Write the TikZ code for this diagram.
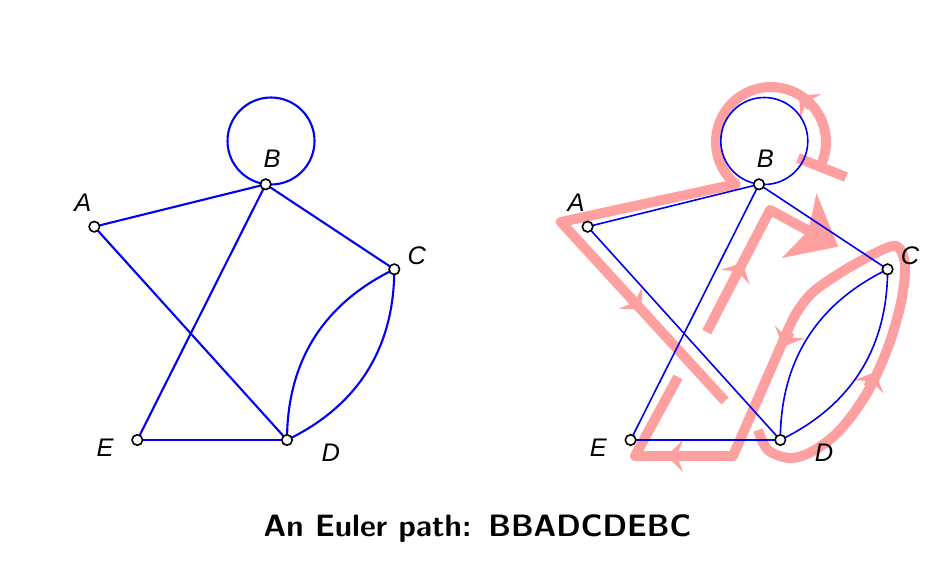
\documentclass[tikz,border=0pt]{standalone}
\usepackage{fontspec}
\newfontfamily\labfont{Liberation Sans}
\usetikzlibrary{arrows.meta,calc}
\definecolor{pathred}{RGB}{255,160,160}
\definecolor{edgeblue}{RGB}{0,0,245}
\tikzset{
  vtx/.style={circle,draw=black,fill=white,line width=1.6bp,minimum size=10.5bp,inner sep=0pt},
  lab/.style={font=\labfont\itshape\fontsize{25.5}{28}\selectfont,inner sep=0pt},
  edgeL/.style={draw=edgeblue,line width=2.1bp},
  edgeR/.style={draw=edgeblue,line width=1.6bp},
  redpath/.style={draw=pathred,line width=10bp,line cap=butt,line join=round},
  midarr/.style={draw=pathred,line width=10bp,line cap=butt,
    -{Stealth[length=16bp,width=32bp,inset=6bp]}},
  bigarr/.style={-{Stealth[length=44bp,width=72bp,inset=10bp]}},
}
\begin{document}
\begin{tikzpicture}[x=1bp,y=-1bp]
\useasboundingbox (0,0) rectangle (952,574);
% ---------- left graph ----------
\coordinate (lA) at (94.3,226.7);
\coordinate (lB) at (265.7,184.3);
\coordinate (lC) at (394.3,269.3);
\coordinate (lD) at (287,440);
\coordinate (lE) at (137.3,440);
\draw[edgeL] ($(lB)+(5.3,-43.3)$) circle[radius=43.5];
\draw[edgeL] (lA) -- (lB);
\draw[edgeL] (lB) -- (lC);
\draw[edgeL] (lB) -- (lE);
\draw[edgeL] (lA) -- (lD);
\draw[edgeL] (lE) -- (lD);
\draw[edgeL] (lD) to[bend left=32] (lC);
\draw[edgeL] (lD) to[bend right=32] (lC);
\foreach \v in {A,B,C,D,E}{\node[vtx] (nl\v) at (l\v) {};}
\node[lab] (tlA) at ($(lA)+(-11.5,-24.2)$) {A};
\node[lab] (tlB) at ($(lB)+(6.3,-25.3)$) {B};
\node[lab] (tlC) at ($(lC)+(22.4,-13.5)$) {C};
\node[lab] (tlD) at ($(lD)+(43.8,12.5)$) {D};
\node[lab] (tlE) at ($(lE)+(-32.3,7.5)$) {E};
% ---------- right graph ----------
\coordinate (rA) at (587.6,226.7);
\coordinate (rB) at (759.0,184.3);
\coordinate (rC) at (887.6,269.3);
\coordinate (rD) at (780.3,440);
\coordinate (rE) at (630.6,440);
% red Euler path (drawn first, under the graph)
\draw[redpath] (798,158) -- (846,177);
\draw[redpath] (822,162.6) arc[start angle=22,end angle=-230,radius=55]
  -- (561,222) -- (725,401);
\draw[redpath] plot[smooth,tension=0.55] coordinates {(758,430) (768,450) (790,458) (813,451) (840,430) (867,393) (887,350) (900,307) (905,273) (903,255) (896,246) (884,249) (866,258) (840,273) (813,292) (797,312) (787,332)}
  -- (733,456) -- (635,456) -- (678,377);
\draw[redpath,bigarr] (706.7,332) -- (770,210) -- (838.3,246.7);
% arrows along the path
\draw[midarr] (811,106) -- (799,95.5);
\draw[midarr] (630.5,297.8) -- (641.3,309.6);
\draw[midarr] (868.5,387) -- (875,372);
\draw[midarr] (789.5,332) -- (783.1,346.7);
\draw[midarr] (683,456) -- (667,456);
\draw[midarr] (735.3,277) -- (742.6,262.8);
% graph
\draw[edgeR] ($(rB)+(5.3,-43.3)$) circle[radius=43.5];
\draw[edgeR] (rA) -- (rB);
\draw[edgeR] (rB) -- (rC);
\draw[edgeR] (rB) -- (rE);
\draw[edgeR] (rA) -- (rD);
\draw[edgeR] (rE) -- (rD);
\draw[edgeR] (rD) to[bend left=32] (rC);
\draw[edgeR] (rD) to[bend right=32] (rC);
\foreach \v in {A,B,C,D,E}{\node[vtx] (nr\v) at (r\v) {};}
\node[lab] (trA) at ($(rA)+(-11.5,-24.2)$) {A};
\node[lab] (trB) at ($(rB)+(6.3,-25.3)$) {B};
\node[lab] (trC) at ($(rC)+(22.4,-13.5)$) {C};
\node[lab] (trD) at ($(rD)+(43.8,12.5)$) {D};
\node[lab] (trE) at ($(rE)+(-32.3,7.5)$) {E};
% ---------- caption ----------
\node[font=\sffamily\bfseries\fontsize{31}{36}\selectfont,inner sep=0pt] (cap) at (477.5,529)
  {An Euler path:\hspace{0.55em}BBADCDEBC};
\end{tikzpicture}
\end{document}
